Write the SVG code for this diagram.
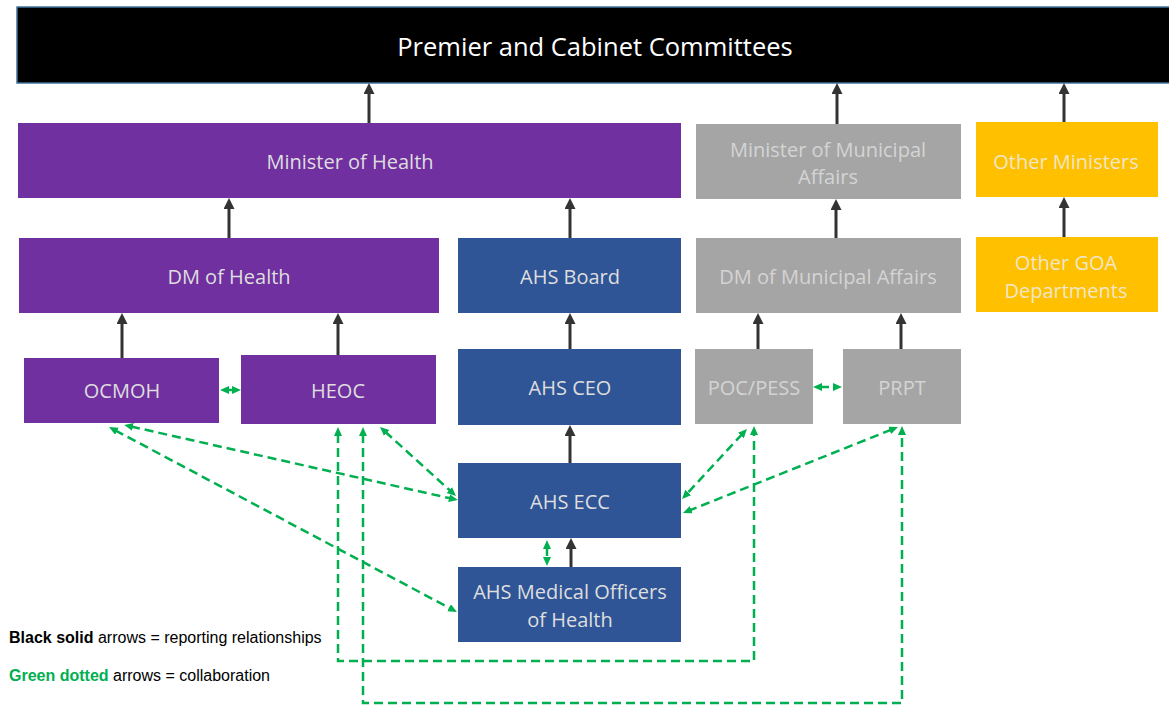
<svg xmlns="http://www.w3.org/2000/svg" width="1169" height="707" viewBox="0 0 1169 707">
<style>
.lbl{font-family:"Open Sans","Liberation Sans",sans-serif;font-size:20px;text-anchor:middle;dominant-baseline:central}
.lt{fill:#dedede}
.gt{fill:#d4d4d4}
.yt{fill:#f0e6c8}
.rep{stroke:#333333;stroke-width:3;fill:none;marker-end:url(#ah)}
.col{stroke:#00b050;stroke-width:2.5;fill:none;stroke-dasharray:9 5;marker-start:url(#gh);marker-end:url(#gh)}
.leg{font-family:"Liberation Sans",Arial,sans-serif;font-size:16px}
</style>
<defs>
<marker id="ah" markerUnits="userSpaceOnUse" markerWidth="11" markerHeight="11" refX="2" refY="5.5" orient="auto"><path d="M0,0 L11,5.5 L0,11 z" fill="#333333"/></marker>
<marker id="gh" markerUnits="userSpaceOnUse" markerWidth="9" markerHeight="9" refX="2" refY="4" orient="auto-start-reverse"><path d="M0,0 L9,4 L0,8 z" fill="#00b050"/></marker>
</defs>
<rect width="1169" height="707" fill="#ffffff"/>
<g id="premier">
<rect x="17" y="7" width="1160" height="76" fill="#000000" stroke="#41719c" stroke-width="1.5"/>
<text x="595" y="46" class="lbl" style="font-size:25.5px" fill="#ffffff">Premier and Cabinet Committees</text>
</g>
<g id="min-health"><rect x="18" y="123" width="663" height="75" fill="#7030a0"/><text x="350" y="161" class="lbl lt">Minister of Health</text></g>
<g id="min-muni"><rect x="696" y="124" width="265" height="75" fill="#a5a5a5"/><text class="lbl gt" x="828" y="149">Minister of Municipal</text><text class="lbl gt" x="828" y="176">Affairs</text></g>
<g id="other-min"><rect x="976" y="122" width="182" height="75" fill="#ffc000"/><text class="lbl yt" x="1066" y="161">Other Ministers</text></g>
<g id="dm-health"><rect x="19" y="238" width="420" height="75" fill="#7030a0"/><text class="lbl lt" x="229" y="276">DM of Health</text></g>
<g id="ahs-board"><rect x="458" y="238" width="223" height="75" fill="#2f5597"/><text class="lbl lt" x="570" y="276">AHS Board</text></g>
<g id="dm-muni"><rect x="696" y="238" width="265" height="75" fill="#a5a5a5"/><text class="lbl gt" x="828" y="276">DM of Municipal Affairs</text></g>
<g id="other-goa"><rect x="976" y="237" width="182" height="75" fill="#ffc000"/><text class="lbl yt" x="1066" y="262">Other GOA</text><text class="lbl yt" x="1066" y="290">Departments</text></g>
<g id="ocmoh"><rect x="24" y="358" width="195" height="65" fill="#7030a0"/><text class="lbl lt" x="122" y="390">OCMOH</text></g>
<g id="heoc"><rect x="241" y="355" width="195" height="69" fill="#7030a0"/><text class="lbl lt" x="338" y="390">HEOC</text></g>
<g id="ahs-ceo"><rect x="458" y="349" width="223" height="76" fill="#2f5597"/><text class="lbl lt" x="570" y="387">AHS CEO</text></g>
<g id="poc-pess"><rect x="695" y="349" width="118" height="75" fill="#a5a5a5"/><text class="lbl gt" x="754" y="387">POC/PESS</text></g>
<g id="prpt"><rect x="843" y="349" width="118" height="75" fill="#a5a5a5"/><text class="lbl gt" x="902" y="387">PRPT</text></g>
<g id="ahs-ecc"><rect x="458" y="463" width="223" height="75" fill="#2f5597"/><text class="lbl lt" x="570" y="501">AHS ECC</text></g>
<g id="ahs-moh"><rect x="458" y="567" width="223" height="75" fill="#2f5597"/><text class="lbl lt" x="570" y="591">AHS Medical Officers</text><text class="lbl lt" x="570" y="619">of Health</text></g>
<g id="connectors">
<line class="rep" x1="369" y1="123" x2="369" y2="92"/>
<line class="rep" x1="837" y1="124" x2="837" y2="92"/>
<line class="rep" x1="1064" y1="122" x2="1064" y2="92"/>
<line class="rep" x1="229" y1="238" x2="229" y2="207"/>
<line class="rep" x1="570" y1="238" x2="570" y2="207"/>
<line class="rep" x1="836" y1="238" x2="836" y2="208"/>
<line class="rep" x1="1064" y1="237" x2="1064" y2="206"/>
<line class="rep" x1="122" y1="358" x2="122" y2="322"/>
<line class="rep" x1="338" y1="355" x2="338" y2="322"/>
<line class="rep" x1="570" y1="349" x2="570" y2="322"/>
<line class="rep" x1="758" y1="349" x2="758" y2="322"/>
<line class="rep" x1="901" y1="349" x2="901" y2="322"/>
<line class="rep" x1="570" y1="463" x2="570" y2="434"/>
<line class="rep" x1="571" y1="567" x2="571" y2="547"/>
<line class="col" x1="227" y1="390" x2="234" y2="390"/>
<line class="col" x1="820" y1="387" x2="835" y2="387"/>
<line class="col" x1="547" y1="547" x2="547" y2="559"/>
<line class="col" x1="131" y1="426.5" x2="451" y2="498.5"/>
<line class="col" x1="115.2" y1="430.3" x2="450.8" y2="608.7"/>
<line class="col" x1="385.2" y1="431.7" x2="450.8" y2="491.3"/>
<path class="col" d="M338,434 V661 H754 V433"/>
<path class="col" d="M363,434 V703 H902 V433"/>
<line class="col" x1="742.2" y1="434.1" x2="686.8" y2="493.9"/>
<line class="col" x1="891.5" y1="429.6" x2="689.5" y2="510.4"/>
</g>
<g id="legend">
<text class="leg" x="9" y="643"><tspan font-weight="bold">Black solid</tspan> arrows = reporting relationships</text>
<text class="leg" x="9" y="681"><tspan font-weight="bold" fill="#00b050">Green dotted</tspan> arrows = collaboration</text>
</g>
</svg>
